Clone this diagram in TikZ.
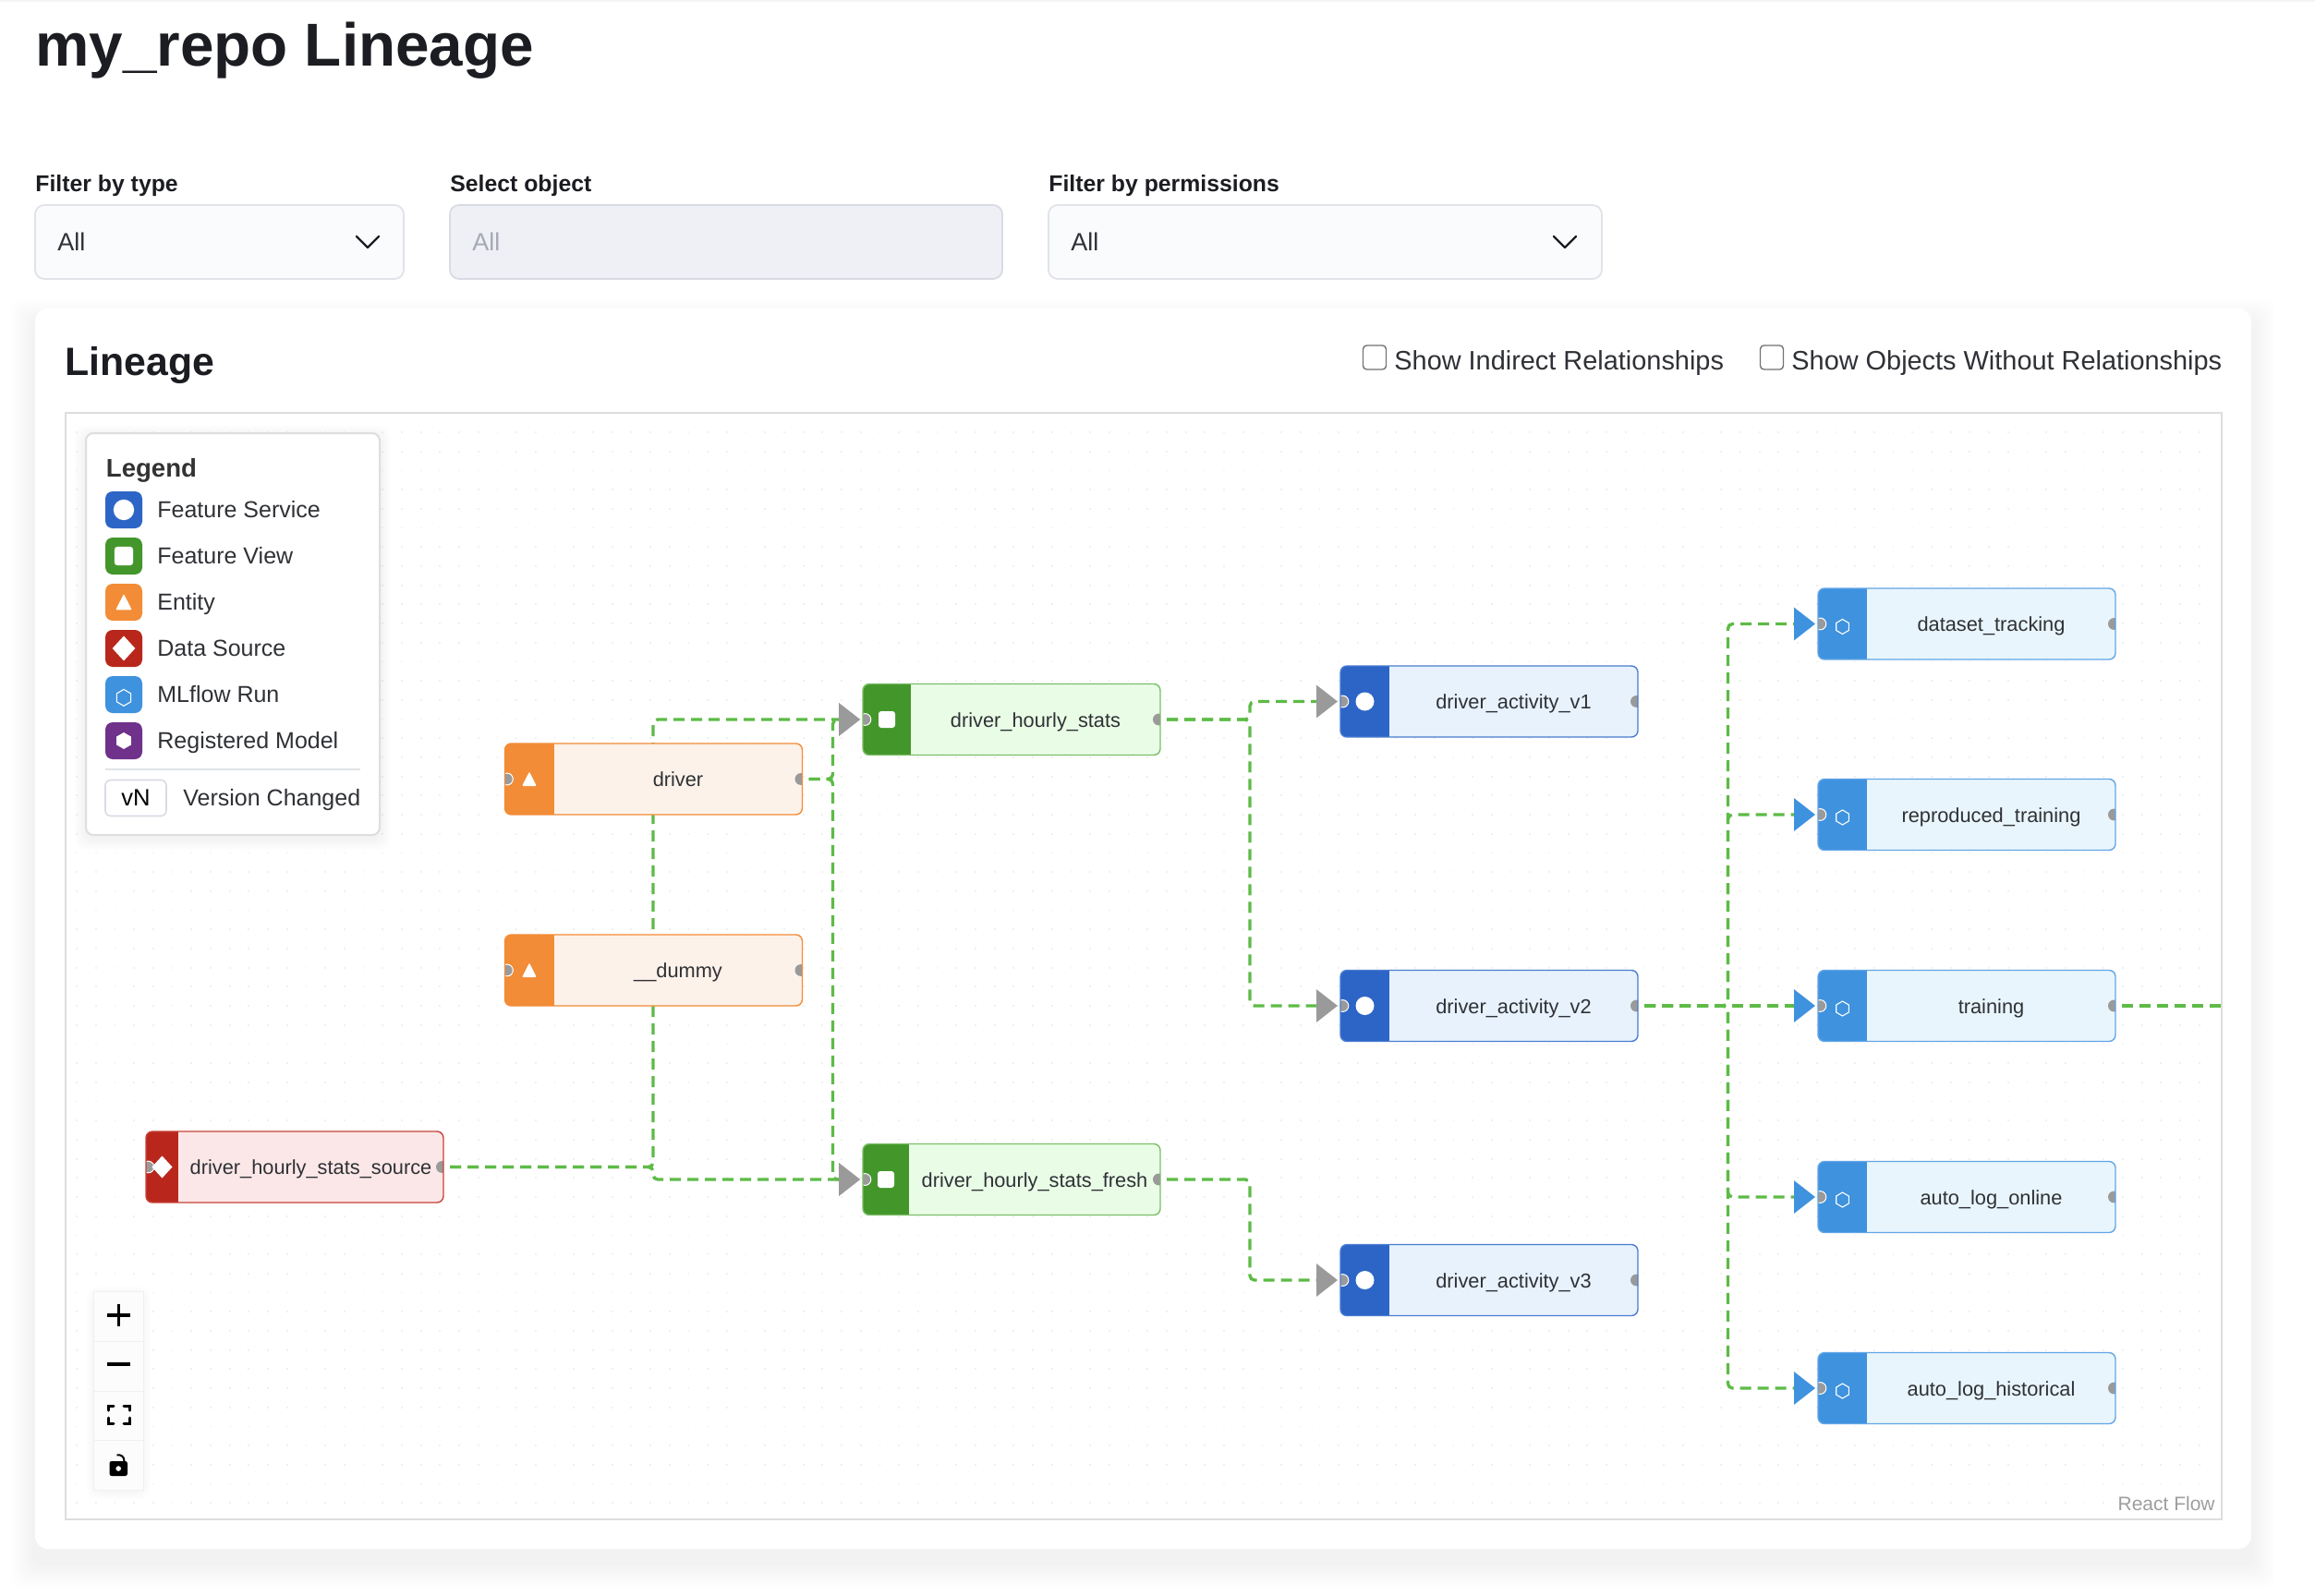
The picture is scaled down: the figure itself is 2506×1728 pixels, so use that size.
\documentclass[tikz,border=0pt]{standalone}
\usepackage{fontspec}
\setmainfont{Liberation Sans}
\usetikzlibrary{arrows.meta,calc}
\definecolor{inkdark}{HTML}{1C1D22}
\definecolor{inktext}{HTML}{2F3136}
\definecolor{inkdim}{HTML}{A5A9B4}
\definecolor{ddrim}{HTML}{E1E3E8}
\definecolor{ddfill}{HTML}{FAFBFD}
\definecolor{ddoff}{HTML}{EFF0F5}
\definecolor{ddoffrim}{HTML}{D9DBE4}
\definecolor{framegray}{HTML}{DDDDDD}
\definecolor{edgegreen}{HTML}{5DBB46}
\definecolor{arrgray}{HTML}{9A9A9A}
\definecolor{arrblue}{HTML}{3F92DE}
\definecolor{handlegray}{HTML}{9A9A9A}
\definecolor{headS}{HTML}{2C65C6}\definecolor{bodyS}{HTML}{E7F2FC}\definecolor{rimS}{HTML}{4A7CCF}
\definecolor{headV}{HTML}{43962A}\definecolor{bodyV}{HTML}{E9FDE6}\definecolor{rimV}{HTML}{7BBF68}
\definecolor{headE}{HTML}{F28C36}\definecolor{bodyE}{HTML}{FDF2E9}\definecolor{rimE}{HTML}{F28C36}
\definecolor{headD}{HTML}{B9271C}\definecolor{bodyD}{HTML}{FBE7E7}\definecolor{rimD}{HTML}{C8443A}
\definecolor{headM}{HTML}{3F92DE}\definecolor{bodyM}{HTML}{E8F5FC}\definecolor{rimM}{HTML}{62A6E6}
\definecolor{headR}{HTML}{70318B}
\pgfdeclarelayer{back}\pgfdeclarelayer{edges}
\pgfsetlayers{back,edges,main}
\tikzset{
  flowbox/.style n args={4}{draw=#4,fill=#3,line width=.7pt,rounded corners=3.5pt,
    minimum width=161pt,minimum height=38.5pt,inner sep=0pt,outer sep=0pt,
    path picture={
      \fill[#2,sharp corners,draw=none] (path picture bounding box.south west) rectangle ([xshift=#1]path picture bounding box.north west);
      \filldraw[sharp corners,fill=handlegray,draw=white,line width=.5pt] ([xshift=1.2pt]path picture bounding box.west) circle[radius=3.2pt];
      \fill[sharp corners,handlegray,draw=none] ([xshift=-.8pt]path picture bounding box.east) circle[radius=3.2pt];
    }},
  flowlabel/.style={font=\fontsize{10.9}{13}\selectfont,text=inktext,inner sep=0pt},
  edge/.style={draw=edgegreen,line width=1.7pt,dash pattern=on 6pt off 3.5pt,rounded corners=2.5pt,shorten <=3.5pt},
  grayhead/.style={-{Triangle[length=11.5pt,width=17.5pt,fill=arrgray,color=arrgray]},shorten >=1.5pt},
  bluehead/.style={-{Triangle[length=11.5pt,width=17.5pt,fill=arrblue,color=arrblue]},shorten >=1.5pt},
  ddbox/.style={draw=ddrim,fill=ddfill,line width=.9pt,rounded corners=5pt,inner sep=0pt,outer sep=0pt},
  ddtext/.style={font=\fontsize{13.5}{16}\selectfont,text=inktext,inner sep=0pt,anchor=base west},
  fieldlabel/.style={font=\bfseries\fontsize{12.4}{15}\selectfont,text=inkdark,inner sep=0pt,anchor=base west},
  chev/.style={draw=inkdark,line width=1.1pt,line cap=round,line join=round},
  checkbox/.style={draw=black!55,fill=white,line width=.7pt,rounded corners=2pt,minimum width=12.5pt,minimum height=13pt,inner sep=0pt},
  checktext/.style={font=\fontsize{14.45}{17}\selectfont,text=inktext,inner sep=0pt,anchor=base west},
  swatch/.style={rounded corners=4pt,minimum width=20pt,minimum height=20pt,inner sep=0pt,outer sep=0pt},
  legtext/.style={font=\fontsize{12.5}{15}\selectfont,text=inktext,inner sep=0pt,anchor=base west},
  ctrlbtn/.style={draw=black!6,fill=white!99!black,line width=.5pt,minimum width=27pt,minimum height=27pt,inner sep=0pt,outer sep=0pt},
}
\newcommand\iconS{\fill[white] (0,0) circle[radius=10];}
\newcommand\iconV{\fill[white,rounded corners=1.5pt] (-9,-9) rectangle (9,9);}
\newcommand\iconE{\fill[white,rounded corners=.5pt] (0,-8) -- (7.8,7.5) -- (-7.8,7.5) -- cycle;}
\newcommand\iconD{\fill[white] (-11,0) -- (0,-12) -- (11,0) -- (0,12) -- cycle;}
\newcommand\iconM{\draw[white,line width=.55pt] (0,-5) -- (6.8,-1) -- (6.8,7) -- (0,11) -- (-6.8,7) -- (-6.8,-1) -- cycle;}
\newcommand\iconR{\fill[white] (0,-8) -- (7,-4) -- (7,4) -- (0,8) -- (-7,4) -- (-7,-4) -- cycle;}
\newcommand\flownode[7]{%
  \node[flowbox={#4*0.5pt}{head#5}{body#5}{rim#5},anchor=west] (#1) at (#2,#3) {};
  \node[flowlabel,anchor=base] (#1-label) at ({#2+(#4+322)/2},{#3+8}) {#6};
  \begin{scope}[shift={({#2+#4/2},#3)}]\csname icon#7\endcsname\end{scope}}
\newcommand\legenditem[4]{%
  \node[swatch,fill=#2] (#1) at (134,#3) {};
  \begin{scope}[shift={(134,#3)},scale=1.12]\csname icon#4\endcsname\end{scope}}
\newcommand\softshadow[8]{%
  \foreach \k in {1,...,#6} {
    \fill[black,opacity=#7,rounded corners=6pt] ({#1-\k*#8},{#2-\k*#8+#5}) rectangle ({#3+\k*#8},{#4+\k*#8+#5});
  }}
\begin{document}
\begin{tikzpicture}[x=0.5pt,y=-0.5pt]
\useasboundingbox (0,0) rectangle (2506,1728);
\begin{pgfonlayer}{back}
  \fill[white] (0,0) rectangle (2506,1728);
  \fill[black!4] (0,0) rectangle (2506,2);
  \softshadow{38}{334}{2437}{1677}{16}{13}{0.004}{2}
  \fill[white,rounded corners=7pt] (38,334) rectangle (2437,1677);
  \foreach \j in {0,...,56} {
    \draw[black!6,line width=.9pt,dash pattern=on .9pt off 9.45pt] ({82.1},{468+\j*20.7}) -- (2400,{468+\j*20.7});
  }
  \softshadow{93}{469}{411}{904}{4}{6}{0.007}{2}
  \softshadow{102}{1398}{155}{1612}{3}{4}{0.006}{2}
\end{pgfonlayer}

% heading
\node[font=\bfseries\fontsize{32.8}{38}\selectfont,text=inkdark,inner sep=0pt,anchor=base west] (title) at (38,72) {my\_repo Lineage};

% filters
\node[fieldlabel] (lab1) at (38,208) {Filter by type};
\node[fieldlabel] (lab2) at (487,208) {Select object};
\node[fieldlabel] (lab3) at (1135,208) {Filter by permissions};
\node[ddbox,anchor=north west,minimum width=199.5pt,minimum height=40pt] (dd1) at (38,222) {};
\node[ddbox,draw=ddoffrim,fill=ddoff,anchor=north west,minimum width=299pt,minimum height=40pt] (dd2) at (487,222) {};
\node[ddbox,anchor=north west,minimum width=299.5pt,minimum height=40pt] (dd3) at (1135,222) {};
\node[ddtext] (dd1t) at (62,272) {All};
\node[ddtext,text=inkdim] (dd2t) at (511,272) {All};
\node[ddtext] (dd3t) at (1159,272) {All};
\draw[chev] (386,256) -- (398,268) -- (410,256);
\draw[chev] (1682,256) -- (1694,268) -- (1706,256);

% card head
\node[font=\bfseries\fontsize{21.4}{25}\selectfont,text=inkdark,inner sep=0pt,anchor=base west] (cardtitle) at (70,406) {Lineage};
\node[checkbox] (cb1) at (1488,387) {};
\node[checktext] (cb1t) at (1509,400) {Show Indirect Relationships};
\node[checkbox] (cb2) at (1918,387) {};
\node[checktext] (cb2t) at (1939,400) {Show Objects Without Relationships};

% flow frame
\node[draw=framegray,line width=1pt,inner sep=0pt,outer sep=0pt,anchor=north west,minimum width=1167pt,minimum height=599pt] (frame) at (71,447) {};

% legend
\node[draw=black!13,fill=white,line width=1pt,rounded corners=4pt,anchor=north west,minimum width=159pt,minimum height=217.5pt,inner sep=0pt,outer sep=0pt] (legend) at (93,469) {};
\node[font=\bfseries\fontsize{13.8}{16}\selectfont,text=black!80,inner sep=0pt,anchor=base west] (legtitle) at (114.5,516) {Legend};
\legenditem{leg1}{headS}{552}{S}
\node[legtext] (leg1t) at (170,560) {Feature Service};
\legenditem{leg2}{headV}{602}{V}
\node[legtext] (leg2t) at (170,610) {Feature View};
\legenditem{leg3}{headE}{652}{E}
\node[legtext] (leg3t) at (170,660) {Entity};
\legenditem{leg4}{headD}{702}{D}
\node[legtext] (leg4t) at (170,710) {Data Source};
\legenditem{leg5}{headM}{752}{M}
\node[legtext] (leg5t) at (170,760) {MLflow Run};
\legenditem{leg6}{headR}{802}{R}
\node[legtext] (leg6t) at (170,810) {Registered Model};
\draw[draw=ddrim,line width=.8pt] (114,833) -- (390,833);
\node[draw=ddoffrim,fill=white,line width=.8pt,rounded corners=3pt,minimum width=33pt,minimum height=19.5pt,inner sep=0pt,outer sep=0pt,font=\fontsize{12.8}{14}\selectfont,text=black] (vn) at (147,864) {vN};
\node[legtext] (vnt) at (198,872) {Version Changed};

% flow nodes
\flownode{driver}{546.5}{843.5}{53}{E}{driver}{E}
\flownode{dummy}{546.5}{1050.5}{53}{E}{\_\_dummy}{E}
\flownode{src}{158}{1263.5}{35}{D}{driver\_hourly\_stats\_source}{D}
\flownode{stats}{934}{779}{52}{V}{driver\_hourly\_stats}{V}
\flownode{fresh}{934}{1277}{50}{V}{driver\_hourly\_stats\_fresh}{V}
\flownode{va}{1451}{759.5}{53}{S}{driver\_activity\_v1}{S}
\flownode{vb}{1451}{1089}{53}{S}{driver\_activity\_v2}{S}
\flownode{vc}{1451}{1386}{53}{S}{driver\_activity\_v3}{S}
\flownode{mlds}{1968}{675.5}{53}{M}{dataset\_tracking}{M}
\flownode{mlrt}{1968}{882}{53}{M}{reproduced\_training}{M}
\flownode{mltr}{1968}{1089}{53}{M}{training}{M}
\flownode{mlon}{1968}{1296}{53}{M}{auto\_log\_online}{M}
\flownode{mlhi}{1968}{1503}{53}{M}{auto\_log\_historical}{M}

% edges
\coordinate (b1) at (707,1000);
\coordinate (b2) at (901.5,1000);
\coordinate (b3) at (1353,1000);
\coordinate (b4) at (1870.5,1000);
\coordinate (exit) at (2404,1089);
\begin{pgfonlayer}{edges}
  \draw[edge,grayhead] (src.east) -- (src.east -| b1) |- (stats.west);
  \draw[edge,grayhead] (src.east) -- (src.east -| b1) |- (fresh.west);
  \draw[edge,grayhead] (driver.east) -- (driver.east -| b2) |- (stats.west);
  \draw[edge,grayhead] (driver.east) -- (driver.east -| b2) |- (fresh.west);
  \draw[edge,grayhead] (stats.east) -- (stats.east -| b3) |- (va.west);
  \draw[edge,grayhead] (stats.east) -- (stats.east -| b3) |- (vb.west);
  \draw[edge,grayhead] (fresh.east) -- (fresh.east -| b3) |- (vc.west);
  \draw[edge,bluehead] (vb.east) -- (vb.east -| b4) |- (mlds.west);
  \draw[edge,bluehead] (vb.east) -- (vb.east -| b4) |- (mlrt.west);
  \draw[edge,bluehead] (vb.east) -- (mltr.west);
  \draw[edge,bluehead] (vb.east) -- (vb.east -| b4) |- (mlon.west);
  \draw[edge,bluehead] (vb.east) -- (vb.east -| b4) |- (mlhi.west);
  \draw[edge] (mltr.east) -- (exit);
\end{pgfonlayer}

% controls
\node[ctrlbtn] (zoomin) at (128.5,1425) {};
\node[ctrlbtn] (zoomout) at (128.5,1479) {};
\node[ctrlbtn] (fitview) at (128.5,1533) {};
\node[ctrlbtn] (lock) at (128.5,1586) {};
\draw[black,line width=1.6pt] (116,1424) -- (141,1424) (128.5,1412) -- (128.5,1436);
\draw[black,line width=1.6pt] (116,1477) -- (141,1477);
\draw[black,line width=1.5pt,line cap=round] (117,1527) -- (117,1522) -- (123,1522) (134,1522) -- (140,1522) -- (140,1527) (140,1535) -- (140,1541) -- (134,1541) (123,1541) -- (117,1541) -- (117,1535);
\fill[black,rounded corners=1.2pt] (118.5,1582) rectangle (138,1598);
\draw[black,line width=1pt] (126.5,1575.5) .. controls (131,1574.5) and (134.5,1577) .. (134.5,1582);
\fill[white] (128.2,1590) circle[radius=2.8];

\node[font=\fontsize{10.5}{12}\selectfont,text=black!38,inner sep=0pt,anchor=base east] (rf) at (2398,1635) {React Flow};
\end{tikzpicture}
\end{document}
